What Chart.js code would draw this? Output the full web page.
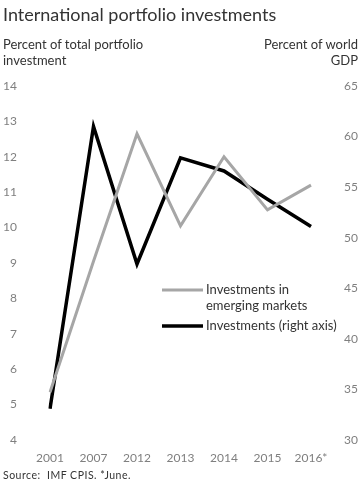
<!DOCTYPE html>
<html>
<head>
<meta charset="utf-8">
<script src="https://cdn.jsdelivr.net/npm/chart.js@4/dist/chart.umd.min.js"></script>
<style>
    html, body { margin: 0; padding: 0; background: #fff; }
    #wrap { position: relative; width: 362px; height: 492px; font-family: Lato, "Open Sans", sans-serif; }
    #chart { position: absolute; left: 0; top: 0; }
    .txt { position: absolute; white-space: nowrap; }
    #title { left: 3px; top: 3px; font-size: 18px; color: #333; }
    #ltitle { left: 3px; top: 36px; font-size: 13px; line-height: 16px; color: #333; }
    #rtitle { right: 4px; top: 36px; font-size: 13px; line-height: 16px; color: #333; text-align: right; }
    #source { left: 3px; top: 469px; font-size: 10.5px; letter-spacing: 0.5px; color: #333; }
</style>
</head>
<body>
<div id="wrap">
    <canvas id="chart" width="362" height="492"></canvas>
    <div class="txt" id="title">International portfolio investments</div>
    <div class="txt" id="ltitle">Percent of total portfolio<br>investment</div>
    <div class="txt" id="rtitle">Percent of world<br>GDP</div>
    <div class="txt" id="source">Source:&nbsp; IMF CPIS. *June.</div>
</div>
<script>
// values
const years = ['2001', '2007', '2012', '2013', '2014', '2015', '2016*'];
const emergingShare = [5.35, 9.05, 12.65, 10.05, 12.0, 10.5, 11.2];   // left axis, % of total
const worldGdpShare = [33.1, 61.0, 47.4, 57.9, 56.6, 53.8, 51.1];    // right axis, % of world GDP

const legendLabels = [['Investments in', 'emerging markets'], ['Investments (right axis)']];

// draws the legend inside the plot, with two-line labels
const legendPlugin = {
    id: 'innerLegend',
    afterDraw(chart) {
        const ctx = chart.ctx;
        let y = 290;
        ctx.save();
        ctx.font = '13px Lato, "Open Sans", sans-serif';
        ctx.textBaseline = 'middle';
        chart.data.datasets.forEach((ds, i) => {
            ctx.strokeStyle = ds.borderColor;
            ctx.lineWidth = ds.borderWidth;
            ctx.beginPath();
            ctx.moveTo(162, y);
            ctx.lineTo(203, y);
            ctx.stroke();
            ctx.fillStyle = '#333';
            legendLabels[i].forEach((line, j) => {
                ctx.fillText(line, 206, y + j * 16);
            });
            y += legendLabels[i].length * 16 + 4;
        });
        ctx.restore();
    }
};

const tickFont = { family: 'Lato, "Open Sans", sans-serif', size: 12 };

new Chart(document.getElementById('chart'), {
    type: 'line',
    data: {
        labels: years,
        datasets: [
            {
                label: 'Investments in emerging markets',
                data: emergingShare,
                yAxisID: 'yLeft',
                borderColor: '#a6a6a6',
                borderWidth: 3,
                pointRadius: 0,
                tension: 0,
                borderJoinStyle: 'miter'
            },
            {
                label: 'Investments (right axis)',
                data: worldGdpShare,
                yAxisID: 'yRight',
                borderColor: '#000000',
                borderWidth: 3.5,
                pointRadius: 0,
                tension: 0,
                borderJoinStyle: 'miter'
            }
        ]
    },
    options: {
        responsive: false,
        animation: false,
        layout: { padding: { top: 86, bottom: 22, left: 0, right: 0 } },
        plugins: {
            legend: { display: false },
            tooltip: { enabled: false }
        },
        scales: {
            x: {
                offset: false,
                grid: { display: false, drawTicks: false },
                border: { display: false },
                ticks: { color: '#7f7f7f', font: tickFont, padding: 11, maxRotation: 0, autoSkip: false },
                afterFit: (scale) => { scale.height = 30; }
            },
            yLeft: {
                position: 'left',
                min: 4,
                max: 14,
                grid: { display: false, drawTicks: false },
                border: { display: false },
                ticks: { stepSize: 1, color: '#7f7f7f', font: tickFont, padding: 33 },
                afterFit: (scale) => { scale.width = 50; }
            },
            yRight: {
                position: 'right',
                min: 30,
                max: 65,
                grid: { display: false, drawTicks: false },
                border: { display: false },
                ticks: { stepSize: 5, color: '#7f7f7f', font: tickFont, padding: 33 },
                afterFit: (scale) => { scale.width = 51; }
            }
        }
    },
    plugins: [legendPlugin]
});
</script>
</body>
</html>
